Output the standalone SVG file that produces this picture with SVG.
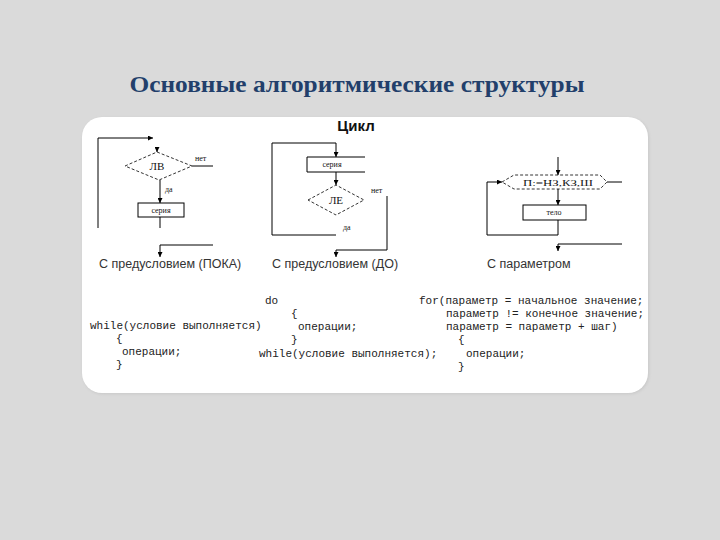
<svg xmlns="http://www.w3.org/2000/svg" width="720" height="540" viewBox="0 0 720 540">
<defs>
<marker id="ah" viewBox="0 0 6 6" refX="6" refY="3" markerWidth="5" markerHeight="5" orient="auto" markerUnits="userSpaceOnUse">
<path d="M0,0 L6,3 L0,6 Z" fill="#000"/>
</marker>
<filter id="sh" x="-5%" y="-5%" width="110%" height="110%">
<feGaussianBlur stdDeviation="1.5"/>
</filter>
</defs>
<style>
.ln{fill:none;stroke:#000;stroke-width:1}
.arr{fill:none;stroke:#000;stroke-width:1;marker-end:url(#ah)}
.dash{fill:#fff;stroke:#000;stroke-width:0.8;stroke-dasharray:3 2}
.box{fill:#fff;stroke:#000;stroke-width:1}
.lbl{font-family:"Liberation Serif",serif;font-size:8px;fill:#111}
.cond{font-family:"Liberation Serif",serif;font-size:11px;fill:#111}
.cap{font-family:"Liberation Sans",Arial,sans-serif;font-size:12.5px;fill:#333}
.code{font-family:"Liberation Mono","Courier New",monospace;font-size:11px;fill:#222}
</style>
<rect width="720" height="540" fill="#dadada"/>
<rect x="83" y="118" width="566" height="276" rx="20" fill="#c8c8c8" filter="url(#sh)"/>
<rect x="82" y="117" width="566" height="276" rx="20" fill="#fff"/>
<text x="357" y="92" text-anchor="middle" font-family="'Liberation Serif',serif" font-weight="bold" font-size="23" fill="#223f6b" textLength="455" lengthAdjust="spacingAndGlyphs">Основные алгоритмические структуры</text>
<text x="356" y="131" text-anchor="middle" font-family="'Liberation Sans',Arial,sans-serif" font-weight="bold" font-size="15" fill="#111">Цикл</text>

<g id="connectors">
<!-- diagram 1 -->
<polyline class="arr" points="98,228 98,138 153,138"/>
<line class="arr" x1="157" y1="147" x2="157" y2="152"/>
<line class="ln" x1="192" y1="166" x2="213" y2="166"/>
<line class="arr" x1="160" y1="180" x2="160" y2="203"/>
<line class="ln" x1="160" y1="217" x2="160" y2="228"/>
<polyline class="arr" points="213,245 160,245 160,257"/>
<!-- diagram 2 -->
<polyline class="arr" points="336,235 272,235 272,143 336,143 336,157"/>
<line class="arr" x1="336" y1="172" x2="336" y2="185"/>
<polyline class="arr" points="387,196 387,250 336,250 336,257"/>
<!-- diagram 3 -->
<line class="arr" x1="558" y1="157" x2="558" y2="175"/>
<line class="ln" x1="607" y1="182" x2="622" y2="182"/>
<line class="arr" x1="558" y1="189" x2="558" y2="205"/>
<polyline class="arr" points="558,220 558,235 487,235 487,182 502,182"/>
<polyline class="arr" points="622,244 558,244 558,251"/>
</g>

<g id="node-lv">
<polygon class="dash" points="125,166 157,152 192,166 159,180"/>
<text class="cond" x="157" y="170" text-anchor="middle">ЛВ</text>
<text class="lbl" x="195" y="161">нет</text>
<text class="lbl" x="165" y="192">да</text>
</g>
<g id="node-seria1">
<rect class="box" x="138" y="203" width="46" height="14"/>
<text class="lbl" x="161" y="213" text-anchor="middle">серия</text>
</g>
<text class="cap" x="99" y="268">С предусловием (ПОКА)</text>

<g id="node-seria2">
<polyline class="ln" points="365,157 307,157 307,172 365,172"/>
<text class="lbl" x="332" y="167" text-anchor="middle">серия</text>
</g>
<g id="node-le">
<polygon class="dash" points="308,200 336,185 364,200 336,215"/>
<text class="cond" x="336" y="204" text-anchor="middle">ЛЕ</text>
<text class="lbl" x="371" y="193">нет</text>
<text class="lbl" x="343" y="230">да</text>
</g>
<text class="cap" x="272" y="268">С предусловием (ДО)</text>

<g id="node-param">
<polygon class="dash" points="502,182 514,175 600,175 607,182 600,189 514,189"/>
<text class="lbl" x="558" y="186" text-anchor="middle" font-size="10.5" textLength="70" lengthAdjust="spacingAndGlyphs">П:=НЗ,КЗ,Ш</text>
</g>
<g id="node-body">
<rect class="box" x="523" y="205" width="63" height="15"/>
<text class="lbl" x="554" y="215" text-anchor="middle">тело</text>
</g>
<text class="cap" x="487" y="268">С параметром</text>

<g id="code">
<text class="code" x="90" y="329">while(условие выполняется)</text>
<text class="code" x="116" y="342">{</text>
<text class="code" x="122" y="355">операции;</text>
<text class="code" x="116" y="368">}</text>

<text class="code" x="265" y="304">do</text>
<text class="code" x="291" y="317">{</text>
<text class="code" x="298" y="330">операции;</text>
<text class="code" x="291" y="343">}</text>
<text class="code" x="259" y="357">while(условие выполняется);</text>

<text class="code" x="419" y="304">for(параметр = начальное значение;</text>
<text class="code" x="446" y="317">параметр != конечное значение;</text>
<text class="code" x="446" y="330">параметр = параметр + шаг)</text>
<text class="code" x="458" y="343">{</text>
<text class="code" x="466" y="357">операции;</text>
<text class="code" x="458" y="370">}</text>
</g>
</svg>
